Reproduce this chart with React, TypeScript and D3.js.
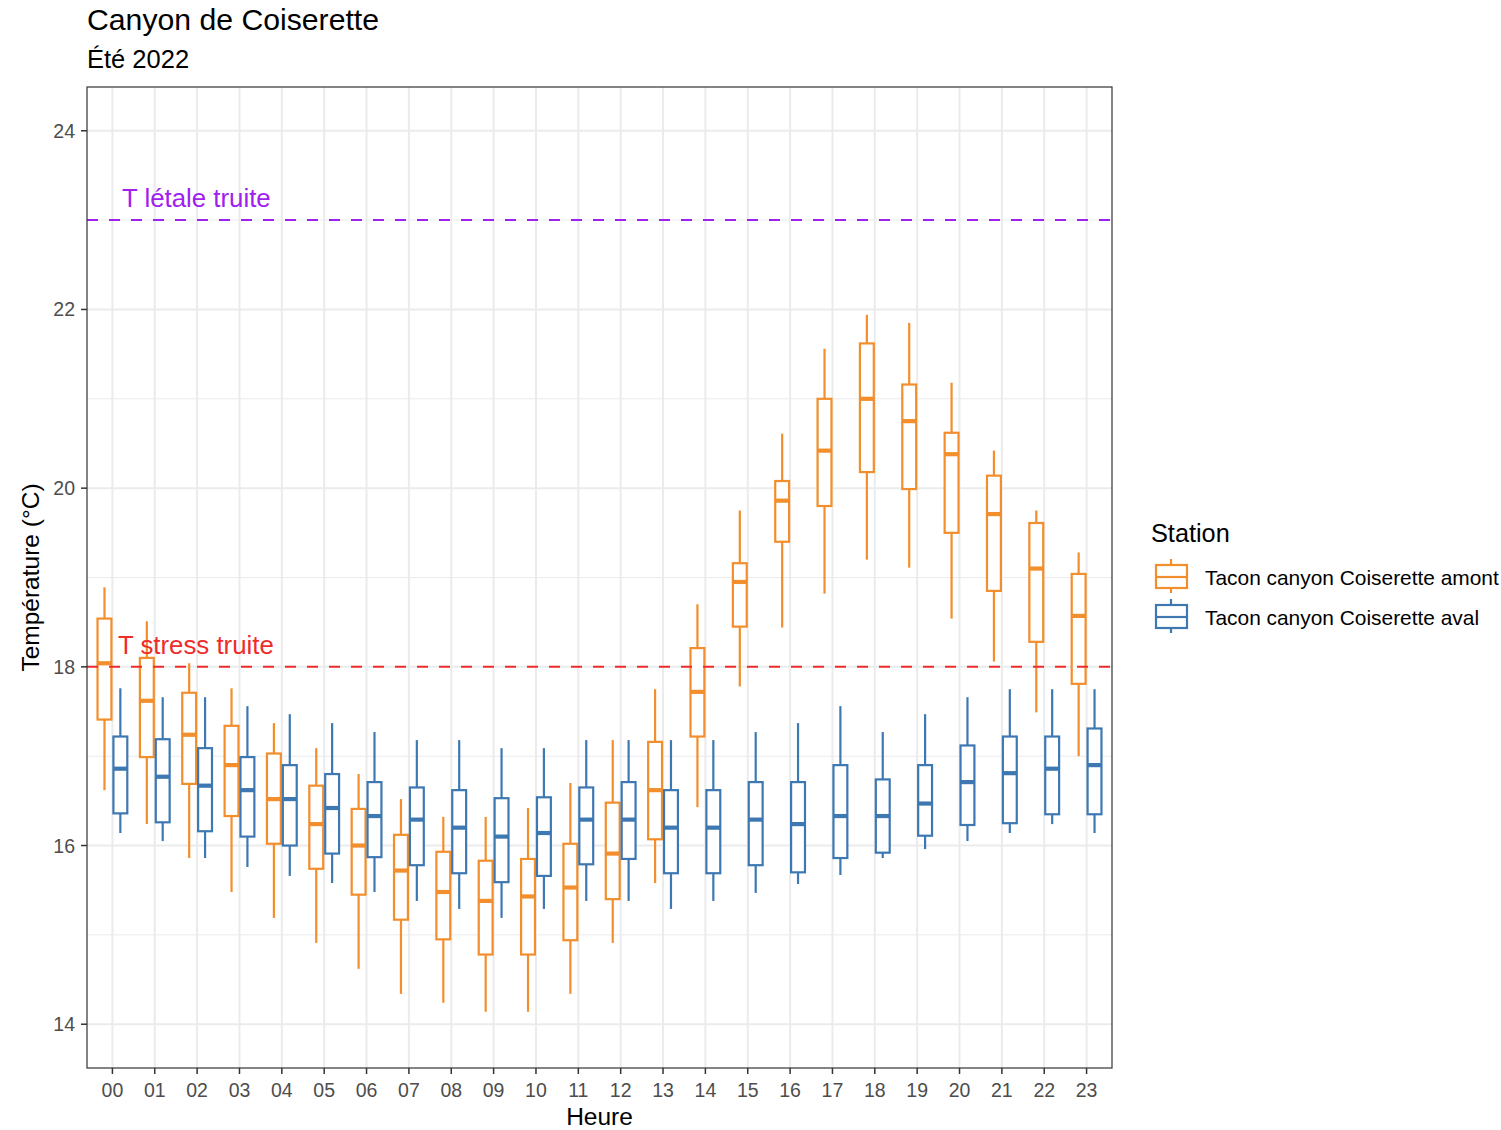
import * as d3 from 'd3'

// hours of the day
const hours = d3.range(24).map((h) => String(h).padStart(2, '0'))

// [lower whisker, Q1, median, Q3, upper whisker] per hour
const amont: number[][] = [
  [16.62, 17.41, 18.04, 18.54, 18.89],
  [16.24, 16.99, 17.62, 18.1, 18.51],
  [15.86, 16.69, 17.24, 17.71, 18.04],
  [15.48, 16.33, 16.9, 17.34, 17.76],
  [15.19, 16.02, 16.52, 17.03, 17.37],
  [14.91, 15.74, 16.24, 16.67, 17.09],
  [14.62, 15.45, 16.0, 16.41, 16.8],
  [14.34, 15.17, 15.72, 16.12, 16.52],
  [14.24, 14.95, 15.48, 15.93, 16.32],
  [14.14, 14.78, 15.38, 15.83, 16.32],
  [14.14, 14.78, 15.43, 15.85, 16.42],
  [14.34, 14.94, 15.53, 16.02, 16.7],
  [14.91, 15.4, 15.91, 16.48, 17.18],
  [15.58, 16.07, 16.62, 17.16, 17.75],
  [16.43, 17.22, 17.72, 18.21, 18.7],
  [17.78, 18.45, 18.95, 19.16, 19.75],
  [18.44, 19.4, 19.86, 20.08, 20.61],
  [18.82, 19.8, 20.42, 21.0, 21.56],
  [19.2, 20.18, 21.0, 21.62, 21.94],
  [19.11, 19.99, 20.75, 21.16, 21.85],
  [18.54, 19.5, 20.38, 20.62, 21.18],
  [18.06, 18.85, 19.71, 20.14, 20.42],
  [17.49, 18.28, 19.1, 19.61, 19.75],
  [17.0, 17.81, 18.57, 19.04, 19.28],
]

const aval: number[][] = [
  [16.14, 16.36, 16.86, 17.22, 17.76],
  [16.05, 16.26, 16.77, 17.19, 17.66],
  [15.86, 16.16, 16.67, 17.09, 17.66],
  [15.76, 16.1, 16.62, 16.99, 17.56],
  [15.66, 16.0, 16.52, 16.9, 17.47],
  [15.58, 15.91, 16.42, 16.8, 17.37],
  [15.48, 15.87, 16.33, 16.71, 17.27],
  [15.38, 15.78, 16.29, 16.65, 17.18],
  [15.29, 15.69, 16.2, 16.62, 17.18],
  [15.19, 15.59, 16.1, 16.53, 17.09],
  [15.29, 15.66, 16.14, 16.54, 17.09],
  [15.38, 15.79, 16.29, 16.65, 17.18],
  [15.38, 15.85, 16.29, 16.71, 17.18],
  [15.29, 15.69, 16.2, 16.62, 17.18],
  [15.38, 15.69, 16.2, 16.62, 17.18],
  [15.47, 15.78, 16.29, 16.71, 17.27],
  [15.57, 15.7, 16.24, 16.71, 17.37],
  [15.67, 15.86, 16.33, 16.9, 17.56],
  [15.86, 15.92, 16.33, 16.74, 17.27],
  [15.96, 16.11, 16.47, 16.9, 17.47],
  [16.05, 16.23, 16.71, 17.12, 17.66],
  [16.14, 16.25, 16.81, 17.22, 17.75],
  [16.24, 16.35, 16.86, 17.22, 17.75],
  [16.14, 16.35, 16.9, 17.31, 17.75],
]

const stations = ['Tacon canyon Coiserette amont', 'Tacon canyon Coiserette aval']
const stationColors = ['#F28E2B', '#3E78B2']
const yTicks = [14, 16, 18, 20, 22, 24]
const yMinor = [15, 17, 19, 21, 23]
const thresholds = [
  { value: 23, label: 'T létale truite', color: '#A020F0' },
  { value: 18, label: 'T stress truite', color: '#EE2C2C' },
]

const font = '"Liberation Sans", Arial, Helvetica, sans-serif'

export default function App() {
  const width = 1501
  const height = 1130
  const panel = { left: 87, right: 1112, top: 87, bottom: 1068 }

  const x = d3
    .scalePoint<string>()
    .domain(hours)
    .range([panel.left, panel.right])
    .padding(0.6)
  const step = x.step()

  const y = d3.scaleLinear().domain([13.51, 24.49]).range([panel.bottom, panel.top])

  const dodge = d3
    .scaleBand<number>()
    .domain([0, 1])
    .range([-step * 0.375, step * 0.375])
  const boxW = dodge.bandwidth()

  const series = [amont, aval]

  return (
    <svg
      width={width}
      height={height}
      style={{ position: 'absolute', left: 0, top: 0, background: '#fff' }}
      fontFamily={font}
    >
      <rect x={0} y={0} width={width} height={height} fill="#fff" />

      {/* grid */}
      {yMinor.map((v) => (
        <line key={`mi${v}`} x1={panel.left} x2={panel.right} y1={y(v)} y2={y(v)} stroke="#EBEBEB" strokeWidth={1} />
      ))}
      {yTicks.map((v) => (
        <line key={`ma${v}`} x1={panel.left} x2={panel.right} y1={y(v)} y2={y(v)} stroke="#EBEBEB" strokeWidth={2} />
      ))}
      {hours.map((h) => (
        <line key={`v${h}`} x1={x(h)} x2={x(h)} y1={panel.top} y2={panel.bottom} stroke="#EBEBEB" strokeWidth={2} />
      ))}

      {/* boxplots */}
      {series.map((data, si) => (
        <g key={si} stroke={stationColors[si]} fill="#fff">
          {data.map((d, i) => {
            const cx = (x(hours[i]) as number) + (dodge(si) as number) + boxW / 2
            const [lo, q1, med, q3, hi] = d
            return (
              <g key={i}>
                <line x1={cx} x2={cx} y1={y(hi)} y2={y(q3)} strokeWidth={2.2} />
                <line x1={cx} x2={cx} y1={y(q1)} y2={y(lo)} strokeWidth={2.2} />
                <rect
                  x={cx - boxW / 2 + 1}
                  y={y(q3)}
                  width={boxW - 2}
                  height={y(q1) - y(q3)}
                  strokeWidth={2.2}
                />
                <line x1={cx - boxW / 2 + 1} x2={cx + boxW / 2 - 1} y1={y(med)} y2={y(med)} strokeWidth={4.2} />
              </g>
            )
          })}
        </g>
      ))}

      {/* thresholds */}
      {thresholds.map((t) => (
        <line
          key={t.label}
          x1={panel.left}
          x2={panel.right}
          y1={y(t.value)}
          y2={y(t.value)}
          stroke={t.color}
          strokeWidth={2}
          strokeDasharray="11 11"
        />
      ))}
      <text x={122} y={y(23) - 13} fontSize={25.8} fill={thresholds[0].color}>
        {thresholds[0].label}
      </text>
      <text x={118} y={y(18) - 13} fontSize={25.8} fill={thresholds[1].color}>
        {thresholds[1].label}
      </text>

      {/* panel border */}
      <rect
        x={panel.left}
        y={panel.top}
        width={panel.right - panel.left}
        height={panel.bottom - panel.top}
        fill="none"
        stroke="#333333"
        strokeWidth={1.2}
      />

      {/* y axis */}
      {yTicks.map((v) => (
        <g key={`yt${v}`}>
          <line x1={panel.left - 6} x2={panel.left} y1={y(v)} y2={y(v)} stroke="#333333" strokeWidth={1.5} />
          <text x={panel.left - 12} y={y(v) + 7} textAnchor="end" fontSize={19.5} fill="#4D4D4D">
            {v}
          </text>
        </g>
      ))}

      {/* x axis */}
      {hours.map((h) => (
        <g key={`xt${h}`}>
          <line x1={x(h)} x2={x(h)} y1={panel.bottom} y2={panel.bottom + 6} stroke="#333333" strokeWidth={1.5} />
          <text x={x(h)} y={1097} textAnchor="middle" fontSize={19.5} fill="#4D4D4D">
            {h}
          </text>
        </g>
      ))}

      <text x={(panel.left + panel.right) / 2} y={1125} textAnchor="middle" fontSize={24.5} fill="#000">
        Heure
      </text>
      <text
        transform={`translate(39,${(panel.top + panel.bottom) / 2}) rotate(-90)`}
        textAnchor="middle"
        fontSize={24.5}
        fill="#000"
      >
        Température (°C)
      </text>

      {/* titles */}
      <text x={87} y={30} fontSize={30.2} fill="#000">
        Canyon de Coiserette
      </text>
      <text x={87} y={68} fontSize={25.5} fill="#000">
        Été 2022
      </text>

      {/* legend */}
      <text x={1151} y={542} fontSize={25.3} fill="#000">
        Station
      </text>
      {stations.map((s, i) => {
        const cy = 577 + i * 40
        return (
          <g key={s}>
            <g stroke={stationColors[i]} fill="#fff" strokeWidth={2.2}>
              <line x1={1171} x2={1171} y1={cy - 18} y2={cy + 16} />
              <rect x={1156} y={cy - 12} width={31} height={23} />
              <line x1={1156} x2={1187} y1={cy} y2={cy} />
            </g>
            <text x={1205} y={cy + 7.5} fontSize={20.9} fill="#000">
              {s}
            </text>
          </g>
        )
      })}
    </svg>
  )
}
